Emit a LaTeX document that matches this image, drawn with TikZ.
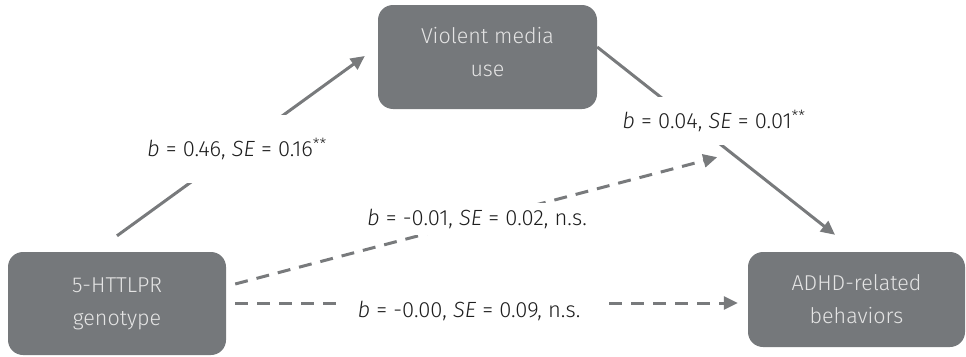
\documentclass[tikz,border=0pt]{standalone}
\usepackage{fontspec}
\setmainfont{Fira Sans Light}[ItalicFont={Fira Sans Light Italic}]
\usetikzlibrary{arrows.meta}
\definecolor{boxgray}{RGB}{117,120,123}
\definecolor{linegray}{RGB}{120,122,124}
\definecolor{boxtext}{RGB}{228,228,228}
\definecolor{labeltext}{RGB}{30,30,30}
\tikzset{
  varbox/.style={draw=none, fill=boxgray, rounded corners=15pt, text=boxtext,
    align=center, font=\fontsize{21.5}{33}\selectfont, inner sep=0pt},
  conn/.style={draw=linegray, line width=3pt,
    -{Triangle[length=14pt,width=13pt]}},
  dashconn/.style={conn, dash pattern=on 13pt off 9pt},
  coef/.style={fill=white, text=labeltext, font=\fontsize{22}{24}\selectfont, inner sep=0pt}
}
\begin{document}
\begin{tikzpicture}[x=1pt,y=-1pt]
\useasboundingbox (0,0) rectangle (966,356);
\node[varbox, minimum width=219pt, minimum height=104pt] (vm) at (487.5,57) {Violent media\\use\rule[-10pt]{0pt}{10pt}};
\node[varbox, minimum width=218pt, minimum height=103pt] (gen) at (117,303.5) {5-HTTLPR\\genotype};
\node[varbox, minimum width=217pt, minimum height=95pt] (adhd) at (856.5,299.5) {ADHD-related\\behaviors};
% connectors
\draw[conn] ([yshift=16pt]gen.north) -- ([xshift=-13pt,yshift=1pt]vm.west);
\draw[conn] ([yshift=10pt]vm.east) -- ([xshift=-21.5pt,yshift=17pt]adhd.north);
\draw[dashconn] ([xshift=9pt,yshift=19.5pt]gen.east) -- ([xshift=120pt,yshift=-48pt]vm.south east);
\draw[dashconn] ([xshift=9pt,yshift=0.5pt]gen.east) -- ([xshift=-10pt,yshift=-3.5pt]adhd.west);
% labels
\node[coef, minimum width=184pt, minimum height=68pt] (l1) at (237,149) {\textit{b} = 0.46, \textit{SE} = 0.16\textsuperscript{**}};
\node[coef, minimum width=190pt, minimum height=48pt] (l2) at (714,121) {\textit{b} = 0.04, \textit{SE} = 0.01\textsuperscript{**}};
\node[coef, minimum width=224pt, minimum height=32pt] (l3) at (477,219) {\textit{b} = -0.01, \textit{SE} = 0.02, n.s.};
\node[coef, minimum width=262pt, minimum height=30pt] (l4) at (469,311) {\textit{b} = -0.00, \textit{SE} = 0.09, n.s.};
\end{tikzpicture}
\end{document}
